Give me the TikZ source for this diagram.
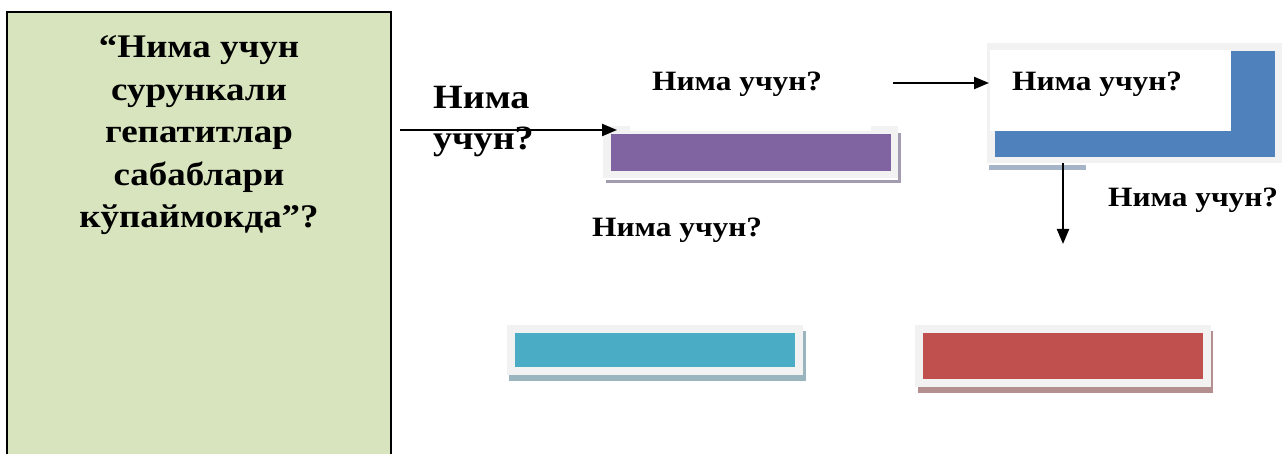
\documentclass[tikz,border=0pt]{standalone}
\usepackage{fontspec}
\setmainfont{Liberation Serif}
\newfontfamily\qfont{Liberation Serif}[FakeStretch=1.12]
\usetikzlibrary{arrows.meta}

\definecolor{panelgreen}{HTML}{D7E4BD}
\definecolor{framegray}{HTML}{F2F2F2}
\definecolor{barpurple}{HTML}{8064A2}
\definecolor{shpurple}{HTML}{A39CB0}
\definecolor{barblue}{HTML}{4F81BD}
\definecolor{shblue}{HTML}{A5B4C6}
\definecolor{barcyan}{HTML}{4BACC6}
\definecolor{shcyan}{HTML}{9BB5BE}
\definecolor{barred}{HTML}{C0504D}
\definecolor{shred}{HTML}{B38F8F}

\tikzset{
  px/.style={x=1pt,y=-1pt},
  arrowline/.style={line width=2.2pt,-{Triangle[length=15pt,width=12pt]}},
  qtext/.style={font=\qfont\fontsize{28}{32}\selectfont\bfseries,inner sep=0pt,anchor=base west},
  framebox/.style={fill=framegray,draw=none},
}

\begin{document}
\begin{tikzpicture}[px]
\useasboundingbox (0,0) rectangle (1282,454);

% left question panel
\fill[panelgreen,draw=black,line width=2pt] (7,12) rectangle (391,470);
\node[font=\qfont\fontsize{33}{42.5}\selectfont\bfseries,align=center,inner sep=0pt,anchor=base]
  (main) at (199,228) {“Нима учун\\сурункали\\гепатитлар\\сабаблари\\кўпаймокда”?};

% purple bar
\fill[shpurple] (606,133) rectangle (901,183);
\fill[white] (604,178) rectangle (898,180);
\fill[framegray] (603,126) rectangle (630,131);
\fill[framegray] (871,126) rectangle (898,131);
\node[framebox,minimum width=295pt,minimum height=47pt,inner sep=0pt] (purple) at (750.5,154.5) {};
\node[fill=barpurple,minimum width=280pt,minimum height=37pt,inner sep=0pt] (purplebar) at (751,152.5) {};

% blue corner box
\fill[shblue] (989,165) rectangle (1086,170);
\node[framebox,minimum width=295pt,minimum height=120pt,inner sep=0pt] (blue) at (1134.5,103) {};
\fill[barblue] (995,51) rectangle (1275,157);
\fill[white] (990,50) rectangle (1231,131);

% cyan bar
\fill[shcyan] (509,331) rectangle (806,381);
\node[framebox,minimum width=296pt,minimum height=50pt,inner sep=0pt] (cyan) at (655,350) {};
\node[fill=barcyan,minimum width=280pt,minimum height=34pt,inner sep=0pt] (cyanbar) at (655,350) {};

% red bar
\fill[shred] (918,331) rectangle (1213,393);
\node[framebox,minimum width=296pt,minimum height=62pt,inner sep=0pt] (red) at (1063,356) {};
\node[fill=barred,minimum width=280pt,minimum height=46pt,inner sep=0pt] (redbar) at (1063,356) {};

% labels
\node[font=\qfont\fontsize{34}{41}\selectfont\bfseries,align=left,inner sep=0pt,anchor=base west]
  (lab0) at (433,150) {Нима\\учун?};
\node[qtext] (lab1) at (652,91) {Нима учун?};
\node[qtext] (lab2) at (1012,91) {Нима учун?};
\node[qtext] (lab3) at (1108,207) {Нима учун?};
\node[qtext] (lab4) at (592,237) {Нима учун?};

% connectors
\coordinate (s1) at (400,130);
\coordinate (e1) at (617,130);
\coordinate (s2) at (893,83);
\coordinate (e2) at (989,83);
\coordinate (s3) at (1063,163);
\coordinate (e3) at (1063,244);
\draw[arrowline] (s1) -- (e1);
\draw[arrowline] (s2) -- (e2);
\draw[arrowline] (s3) -- (e3);
\end{tikzpicture}
\end{document}
